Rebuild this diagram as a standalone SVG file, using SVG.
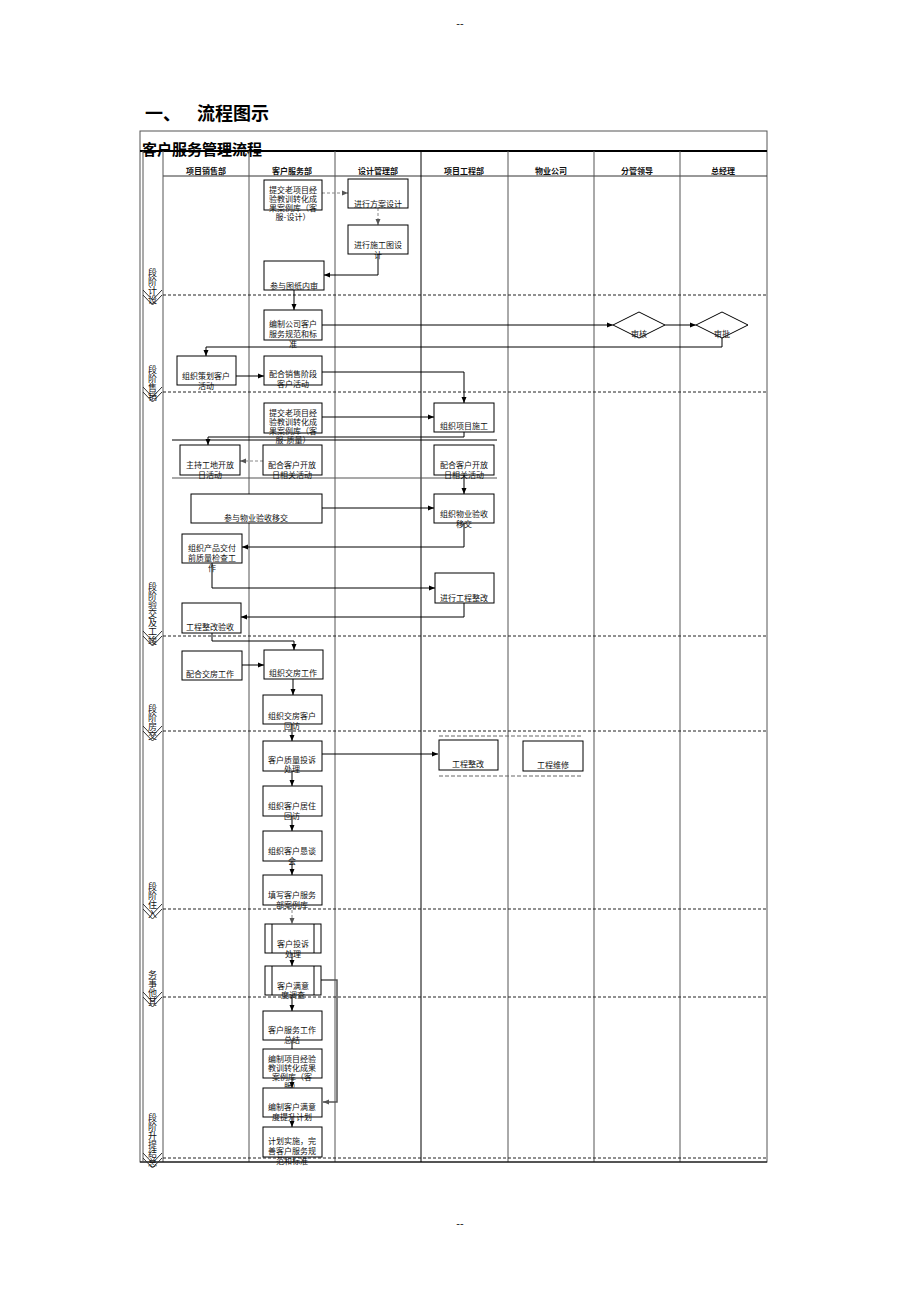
<svg xmlns="http://www.w3.org/2000/svg" width="920" height="1302" viewBox="0 0 920 1302">
<style>
.bg{fill:#fff}
.box{fill:#fff;stroke:#000;stroke-width:1}
.t{font-family:"Noto Sans CJK SC","Noto Sans CJK JP",sans-serif;font-size:8px;fill:#111;text-anchor:middle}
.h{font-family:"Noto Sans CJK SC",sans-serif;font-size:8px;fill:#111;text-anchor:middle;font-weight:bold}
.p{font-family:"Noto Sans CJK SC",sans-serif;font-size:9px;fill:#111;writing-mode:vertical-rl;text-orientation:upright}
.c{fill:none;stroke:#000;stroke-width:1}
.d{fill:none;stroke:#888;stroke-width:1;stroke-dasharray:3,2}
.col{stroke:#555;stroke-width:1}
.ph{stroke:#222;stroke-width:1;stroke-dasharray:3,2}
.chev{fill:none;stroke:#333;stroke-width:1}
</style>
<defs>
<marker id="a" markerWidth="6" markerHeight="6" refX="6" refY="3" orient="auto" markerUnits="userSpaceOnUse"><path d="M0,0.5 L6,3 L0,5.5 z" fill="#000"/></marker>
<marker id="ag" markerWidth="6" markerHeight="6" refX="6" refY="3" orient="auto" markerUnits="userSpaceOnUse"><path d="M0,0.5 L6,3 L0,5.5 z" fill="#555"/></marker>
</defs>
<rect class="bg" x="0" y="0" width="920" height="1302"/>
<text x="460" y="27" font-family="Liberation Sans,sans-serif" font-size="11" text-anchor="middle" fill="#222">--</text>
<text x="460" y="1227" font-family="Liberation Sans,sans-serif" font-size="11" text-anchor="middle" fill="#222">--</text>
<text x="145" y="120" font-family="Noto Sans CJK SC,sans-serif" font-size="18" font-weight="bold" fill="#000">一、</text>
<text x="197" y="120" font-family="Noto Sans CJK SC,sans-serif" font-size="18" font-weight="bold" fill="#000">流程图示</text>

<g id="frame">
<rect x="140" y="131" width="627" height="1031" fill="none" stroke="#555" stroke-width="1"/>
<text x="142" y="155" font-family="Noto Sans CJK SC,sans-serif" font-size="15" font-weight="bold" fill="#000">客户服务管理流程</text>
<line x1="140" y1="151" x2="767" y2="151" stroke="#000" stroke-width="2"/>
<line x1="163" y1="176" x2="767" y2="176" stroke="#333" stroke-width="1"/>
<line class="col" x1="163" y1="151" x2="163" y2="1162"/>
<line class="col" x1="249" y1="151" x2="249" y2="1162"/>
<line class="col" x1="335" y1="151" x2="335" y2="1162"/>
<line x1="421" y1="151" x2="421" y2="1162" stroke="#000" stroke-width="1"/>
<line class="col" x1="508" y1="151" x2="508" y2="1162"/>
<line class="col" x1="594" y1="151" x2="594" y2="1162"/>
<line class="col" x1="680" y1="151" x2="680" y2="1162"/>
<text class="h" x="206" y="174">项目销售部</text>
<text class="h" x="292" y="174">客户服务部</text>
<text class="h" x="378" y="174">设计管理部</text>
<text class="h" x="464" y="174">项目工程部</text>
<text class="h" x="551" y="174">物业公司</text>
<text class="h" x="637" y="174">分管领导</text>
<text class="h" x="723" y="174">总经理</text>
<line class="ph" x1="163" y1="295" x2="767" y2="295"/>
<line class="ph" x1="163" y1="392" x2="767" y2="392"/>
<line class="ph" x1="163" y1="636" x2="767" y2="636"/>
<line class="ph" x1="163" y1="731" x2="767" y2="731"/>
<line class="ph" x1="163" y1="909" x2="767" y2="909"/>
<line class="ph" x1="163" y1="997" x2="767" y2="997"/>
<line class="ph" x1="163" y1="1158" x2="767" y2="1158"/>
<line x1="140" y1="1162" x2="767" y2="1162" stroke="#000" stroke-width="1"/>
<line x1="172" y1="440" x2="497" y2="440" stroke="#000" stroke-width="1.2"/>
<line x1="172" y1="478" x2="497" y2="478" stroke="#555" stroke-width="1.2"/>
<line x1="439" y1="736" x2="582" y2="736" stroke="#666" stroke-dasharray="4,2"/>
<line x1="439" y1="776" x2="582" y2="776" stroke="#666" stroke-dasharray="4,2"/>
</g>

<g id="phases">
<line x1="143" y1="151" x2="143" y2="1162" stroke="#555"/>
<path class="chev" d="M143,290 L152.5,300 L162,290 M143,295 L152.5,305 L162,295"/>
<path class="chev" d="M143,387 L152.5,397 L162,387 M143,392 L152.5,402 L162,392"/>
<path class="chev" d="M143,631 L152.5,641 L162,631 M143,636 L152.5,646 L162,636"/>
<path class="chev" d="M143,726 L152.5,736 L162,726 M143,731 L152.5,741 L162,731"/>
<path class="chev" d="M143,904 L152.5,914 L162,904 M143,909 L152.5,919 L162,909"/>
<path class="chev" d="M143,992 L152.5,1002 L162,992 M143,997 L152.5,1007 L162,997"/>
<path class="chev" d="M143,1153 L152.5,1163 L162,1153 M143,1158 L152.5,1168 L162,1158"/>
<text class="p" x="152.5" y="268.5">段阶计设</text>
<text class="p" x="152.5" y="365.5">段阶售销</text>
<text class="p" x="152.5" y="582.5">段阶验交及工竣</text>
<text class="p" x="152.5" y="704.5">段阶房交</text>
<text class="p" x="152.5" y="882.5">段阶住入</text>
<text class="p" x="152.5" y="970.5">务事他其</text>
<text class="p" x="152.5" y="1113.5">段阶升提结总</text>
</g>

<g id="connectors">
<path class="d" d="M322,193 H348" marker-end="url(#ag)"/>
<path class="d" d="M378,208 V225" marker-end="url(#ag)"/>
<path class="c" d="M378,254 V275 H324" marker-end="url(#a)"/>
<path class="c" d="M294,290 V310" marker-end="url(#a)"/>
<path class="c" d="M322,325 H613" marker-end="url(#a)"/>
<path class="c" d="M665,325 H696" marker-end="url(#a)"/>
<path class="c" d="M722,338 V347 H206 V356" marker-end="url(#a)"/>
<path class="c" d="M236,376 H264" marker-end="url(#a)"/>
<path class="c" d="M322,372 H464 V403" marker-end="url(#a)"/>
<path class="c" d="M322,417 H434" marker-end="url(#a)"/>
<path class="c" d="M464,432 V437 H208 V445" marker-end="url(#a)"/>
<path class="d" d="M263,461 H240" marker-end="url(#ag)"/>
<path class="c" d="M464,475 V494" marker-end="url(#a)"/>
<path class="c" d="M322,508 H434" marker-end="url(#a)"/>
<path class="c" d="M464,523 V547 H242" marker-end="url(#a)"/>
<path class="c" d="M212,563 V588 H435" marker-end="url(#a)"/>
<path class="c" d="M464,602 V617 H241" marker-end="url(#a)"/>
<path class="c" d="M212,633 V641 H294 V650" marker-end="url(#a)"/>
<path class="c" d="M242,665 H264" marker-end="url(#a)"/>
<path class="c" d="M293,679 V695" marker-end="url(#a)"/>
<path class="c" d="M292,724 V741" marker-end="url(#a)"/>
<path class="c" d="M322,754 H438" marker-end="url(#a)"/>
<path class="c" d="M292,771 V786" marker-end="url(#a)"/>
<path class="c" d="M292,816 V831" marker-end="url(#a)"/>
<path class="c" d="M292,861 V875" marker-end="url(#a)"/>
<path class="d" d="M292,905 V924" marker-end="url(#ag)"/>
<path class="c" d="M292,953 V966" marker-end="url(#a)"/>
<path fill="none" stroke="#555" stroke-width="1.5" d="M320,980 H337 V1102 H323" marker-end="url(#ag)"/>
<path class="c" d="M292,995 V1011" marker-end="url(#a)"/>
<path class="c" d="M292,1040 V1049"/>
<path class="c" d="M292,1078 V1088" marker-end="url(#a)"/>
<path class="c" d="M292,1117 V1127" marker-end="url(#a)"/>
</g>

<g id="nA"><rect class="box" x="264" y="180" width="58" height="30"/><text class="t"><tspan x="293" y="193">提交老项目经</tspan><tspan x="293" y="202">验教训转化成</tspan><tspan x="293" y="211">果案例库（客</tspan><tspan x="293" y="220">服-设计）</tspan></text></g>
<g id="nB"><rect class="box" x="348" y="179" width="60" height="29"/><text class="t" x="378" y="207">进行方案设计</text></g>
<g id="nC"><rect class="box" x="348" y="225" width="60" height="29"/><text class="t"><tspan x="378" y="248">进行施工图设</tspan><tspan x="378" y="258">计</tspan></text></g>
<g id="nD"><rect class="box" x="264" y="261" width="60" height="29"/><text class="t" x="294" y="289">参与图纸内审</text></g>
<g id="nE"><rect class="box" x="264" y="310" width="58" height="30"/><text class="t"><tspan x="293" y="327">编制公司客户</tspan><tspan x="293" y="337">服务规范和标</tspan><tspan x="293" y="347">准</tspan></text></g>
<g id="nF"><polygon class="box" points="613,325 639,312 665,325 639,338"/><text class="t" x="639" y="337">审核</text></g>
<g id="nG"><polygon class="box" points="696,325 722,312 748,325 722,338"/><text class="t" x="722" y="337">审批</text></g>
<g id="nH"><rect class="box" x="177" y="356" width="59" height="29"/><text class="t"><tspan x="206" y="379">组织策划客户</tspan><tspan x="206" y="389">活动</tspan></text></g>
<g id="nI"><rect class="box" x="264" y="356" width="58" height="29"/><text class="t"><tspan x="293" y="377">配合销售阶段</tspan><tspan x="293" y="387">客户活动</tspan></text></g>
<g id="nK"><rect class="box" x="264" y="403" width="58" height="30"/><text class="t"><tspan x="293" y="416">提交老项目经</tspan><tspan x="293" y="425">验教训转化成</tspan><tspan x="293" y="434">果案例库（客</tspan><tspan x="293" y="443">服-质量）</tspan></text></g>
<g id="nJ"><rect class="box" x="434" y="403" width="60" height="29"/><text class="t" x="464" y="429">组织项目施工</text></g>
<g id="nL"><rect class="box" x="180" y="445" width="60" height="30"/><text class="t"><tspan x="210" y="468">主持工地开放</tspan><tspan x="210" y="478">日活动</tspan></text></g>
<g id="nM"><rect class="box" x="263" y="445" width="59" height="30"/><text class="t"><tspan x="292" y="468">配合客户开放</tspan><tspan x="292" y="478">日相关活动</tspan></text></g>
<g id="nN"><rect class="box" x="434" y="445" width="60" height="30"/><text class="t"><tspan x="464" y="468">配合客户开放</tspan><tspan x="464" y="478">日相关活动</tspan></text></g>
<g id="nP"><rect class="box" x="191" y="494" width="131" height="29"/><text class="t" x="256" y="521">参与物业验收移交</text></g>
<g id="nO"><rect class="box" x="434" y="494" width="60" height="29"/><text class="t"><tspan x="464" y="517">组织物业验收</tspan><tspan x="464" y="527">移交</tspan></text></g>
<g id="nQ"><rect class="box" x="182" y="534" width="60" height="29"/><text class="t"><tspan x="212" y="551">组织产品交付</tspan><tspan x="212" y="561">前质量检查工</tspan><tspan x="212" y="571">作</tspan></text></g>
<g id="nR"><rect class="box" x="435" y="573" width="59" height="30"/><text class="t" x="464" y="601">进行工程整改</text></g>
<g id="nS"><rect class="box" x="182" y="603" width="59" height="30"/><text class="t" x="210" y="630">工程整改验收</text></g>
<g id="nU"><rect class="box" x="182" y="651" width="60" height="29"/><text class="t" x="210" y="677">配合交房工作</text></g>
<g id="nT"><rect class="box" x="264" y="650" width="59" height="29"/><text class="t" x="293" y="676">组织交房工作</text></g>
<g id="nV"><rect class="box" x="263" y="695" width="59" height="29"/><text class="t"><tspan x="292" y="719">组织交房客户</tspan><tspan x="292" y="729">回访</tspan></text></g>
<g id="nW"><rect class="box" x="263" y="741" width="59" height="30"/><text class="t"><tspan x="292" y="763">客户质量投诉</tspan><tspan x="292" y="772">处理</tspan></text></g>
<g id="nX"><rect class="box" x="439" y="740" width="59" height="30"/><text class="t" x="468" y="767">工程整改</text></g>
<g id="nY"><rect class="box" x="523" y="741" width="60" height="30"/><text class="t" x="553" y="768">工程维修</text></g>
<g id="nZ"><rect class="box" x="263" y="786" width="59" height="30"/><text class="t"><tspan x="292" y="809">组织客户居住</tspan><tspan x="292" y="819">回访</tspan></text></g>
<g id="nAA"><rect class="box" x="263" y="831" width="59" height="30"/><text class="t"><tspan x="292" y="854">组织客户恳谈</tspan><tspan x="292" y="864">会</tspan></text></g>
<g id="nAB"><rect class="box" x="263" y="875" width="59" height="30"/><text class="t"><tspan x="292" y="898">填写客户服务</tspan><tspan x="292" y="908">部案例库</tspan></text></g>
<g id="nAC"><rect class="box" x="265" y="924" width="56" height="29"/><line x1="272" y1="924" x2="272" y2="953" stroke="#000"/><line x1="314" y1="924" x2="314" y2="953" stroke="#000"/><text class="t"><tspan x="293" y="947">客户投诉</tspan><tspan x="293" y="957">处理</tspan></text></g>
<g id="nAD"><rect class="box" x="265" y="966" width="56" height="29"/><line x1="272" y1="966" x2="272" y2="995" stroke="#000"/><line x1="314" y1="966" x2="314" y2="995" stroke="#000"/><text class="t"><tspan x="293" y="989">客户满意</tspan><tspan x="293" y="998">度调查</tspan></text></g>
<g id="nAE"><rect class="box" x="263" y="1011" width="59" height="29"/><text class="t"><tspan x="292" y="1033">客户服务工作</tspan><tspan x="292" y="1043">总结</tspan></text></g>
<g id="nAF"><rect class="box" x="263" y="1049" width="59" height="29"/><text class="t"><tspan x="292" y="1062">编制项目经验</tspan><tspan x="292" y="1071">教训转化成果</tspan><tspan x="292" y="1080">案例库（客</tspan><tspan x="292" y="1089">服）</tspan></text></g>
<g id="nAG"><rect class="box" x="263" y="1088" width="59" height="29"/><text class="t"><tspan x="292" y="1110">编制客户满意</tspan><tspan x="292" y="1120">度提升计划</tspan></text></g>
<g id="nAH"><rect class="box" x="263" y="1127" width="59" height="30"/><text class="t"><tspan x="292" y="1144">计划实施，完</tspan><tspan x="292" y="1154">善客户服务规</tspan><tspan x="292" y="1164">范和标准</tspan></text></g>
</svg>
